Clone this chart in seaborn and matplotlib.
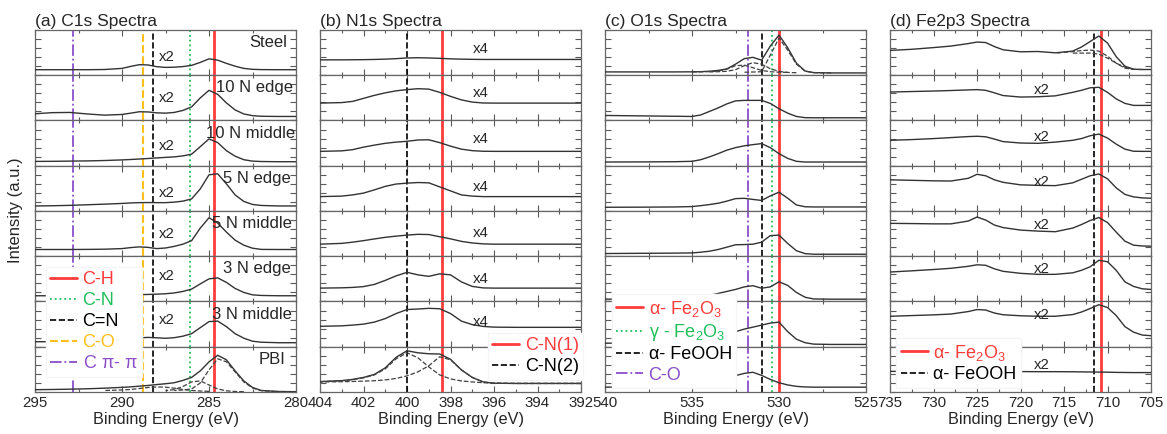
import numpy as np
import matplotlib
matplotlib.use('Agg')
from matplotlib import pyplot as plt
from matplotlib.lines import Line2D
from matplotlib.ticker import MultipleLocator
import seaborn as sns

nan = np.nan

# (a) C1s spectra, intensities in a.u. (one row per sample)
c1s_energy = [295, 294, 293, 292, 291, 290, 289.5, 289, 288.5, 288, 287.5, 287,
              286.5, 286, 285.5, 285, 284.5, 284, 283.5, 283, 282.5, 282, 281, 280]
c1s_steel = [5.5, 5.5, 5.5, 5.5, 5.7, 6.8, 8.8, 10.5, 10.2, 8.5, 7.8, 8.0,
             8.6, 9.8, 12.8, 16.3, 15.0, 11.8, 9.0, 6.8, 5.9, 5.6, 5.5, 5.5]
c1s_10n_edge = [6.7, 7.8, 8.0, 6.5, 5.3, 6.0, 7.3, 8.7, 8.5, 7.6, 7.3, 8.0,
                10.0, 13.5, 22.5, 30.0, 26.0, 17.5, 10.5, 6.5, 4.8, 4.2, 4.0, 4.0]
c1s_10n_middle = [4.3, 4.4, 4.6, 4.8, 5.2, 5.8, 6.2, 6.7, 7.2, 7.8, 8.3, 8.8,
                  9.8, 11.5, 19.0, 26.7, 23.0, 15.0, 9.5, 6.0, 4.6, 4.2, 4.0, 4.0]
c1s_5n_edge = [5.0, 5.2, 5.6, 6.2, 6.8, 7.5, 8.0, 8.3, 8.4, 8.3, 8.3, 8.8,
               9.8, 12.0, 22.0, 36.0, 37.0, 27.0, 16.0, 9.5, 6.5, 5.5, 5.0, 5.0]
c1s_5n_middle = [6.7, 6.7, 6.7, 6.8, 7.0, 7.6, 8.6, 9.3, 8.8, 7.6, 8.2, 9.8,
                 12.0, 15.5, 28.0, 38.3, 33.0, 24.0, 16.0, 11.0, 8.0, 6.8, 6.7, 6.7]
c1s_3n_edge = [5.7, 5.7, 5.8, 5.9, 6.1, 6.4, 6.6, 6.8, 7.0, 7.3, 7.7, 8.5,
               10.0, 12.3, 17.5, 22.5, 23.5, 19.0, 13.0, 9.0, 6.6, 6.0, 5.7, 5.7]
c1s_3n_middle = [5.0, 5.0, 5.2, 5.5, 6.0, 6.8, 7.8, 8.8, 9.3, 8.9, 8.4, 9.0,
                 10.5, 13.0, 19.0, 25.0, 25.5, 20.0, 13.0, 8.5, 5.5, 4.5, 4.0, 4.0]
c1s_pbi = [2.3, 2.5, 2.8, 3.2, 3.8, 4.6, 5.1, 5.8, 6.5, 7.4, 8.2, 9.2,
           11.5, 14.5, 21.0, 30.0, 36.5, 32.0, 21.0, 11.0, 4.5, 1.5, 0.5, 0.3]
c1s_pbi_fit1 = [nan, nan, nan, nan, nan, nan, nan, nan, nan, nan, nan, 1.5,
                2.0, 3.0, 9.0, 22.0, 33.0, 30.0, 20.0, 10.0, 4.0, 1.3, 0.3, 0.2]
c1s_pbi_fit2 = [nan, nan, nan, nan, nan, nan, nan, nan, nan, nan, 1.5, 2.3,
                5.5, 10.0, 11.0, 7.0, 3.0, 1.2, 0.5, 0.3, nan, nan, nan, nan]
c1s_pbi_fit3 = [nan, nan, nan, nan, 1.5, 2.0, 2.5, 3.5, 4.5, 5.0, 4.8, 3.8,
                2.5, 1.5, 1.0, 0.6, nan, nan, nan, nan, nan, nan, nan, nan]
c1s_samples = ['Steel', '10 N edge', '10 N middle', '5 N edge',
               '5 N middle', '3 N edge', '3 N middle', 'PBI']
c1s_refs = [284.7, 286.1, 288.2, 288.8, 292.8]
c1s_ref_names = ['C-H', 'C-N', 'C=N', 'C-O', 'C $\\pi$- $\\pi$']

# (b) N1s spectra
n1s_energy = [404, 403, 402.5, 402, 401.5, 401, 400.5, 400, 399.5, 399,
              398.5, 398, 397.5, 397, 396.5, 396, 395, 394, 393, 392]
n1s_steel = [15.3, 15.3, 15.4, 15.5, 15.7, 16.0, 16.5, 17.2, 17.4, 17.2,
             16.8, 16.3, 16.0, 15.8, 15.7, 15.7, 15.7, 15.7, 15.7, 15.7]
n1s_10n_edge = [17.3, 17.8, 19.0, 22.0, 25.0, 27.5, 29.5, 30.7, 31.6, 31.2,
                28.0, 24.0, 20.5, 18.3, 17.4, 17.3, 17.3, 17.3, 17.3, 17.3]
n1s_10n_middle = [14.3, 14.8, 16.0, 18.5, 20.5, 22.3, 23.5, 24.3, 25.6, 25.8,
                  23.0, 19.5, 16.5, 15.0, 14.4, 14.3, 14.3, 14.3, 14.3, 14.3]
n1s_5n_edge = [14.3, 14.8, 16.0, 17.8, 21.0, 24.5, 26.8, 27.7, 28.3, 28.0,
               24.0, 20.0, 16.0, 14.8, 14.3, 14.3, 14.3, 14.3, 14.3, 14.3]
n1s_5n_middle = [12.0, 12.8, 14.0, 15.5, 17.2, 18.8, 20.0, 21.0, 21.8, 21.6,
                 19.4, 17.3, 14.8, 13.2, 12.3, 12.0, 12.0, 12.0, 12.0, 12.0]
n1s_3n_edge = [13.3, 13.6, 14.0, 14.8, 17.0, 21.0, 25.5, 29.0, 26.5, 25.0,
               27.5, 26.5, 19.5, 15.0, 13.5, 13.3, 13.3, 13.3, 13.3, 13.3]
n1s_3n_middle = [20.3, 20.8, 21.5, 22.5, 24.5, 28.0, 33.0, 37.0, 37.5, 38.2,
                 37.8, 33.0, 25.5, 22.0, 20.2, 19.5, 19.3, 19.3, 19.3, 19.3]
n1s_pbi = [10.3, 11.3, 12.5, 14.5, 17.5, 24.0, 34.5, 41.0, 39.0, 38.0,
           37.8, 32.5, 22.0, 14.5, 10.0, 8.7, 8.5, 8.5, 8.5, 8.5]
n1s_pbi_fit1 = [10.3, 11.2, 12.3, 14.0, 17.0, 23.0, 33.0, 39.0, 34.0, 25.0,
                17.0, 13.0, 11.0, 10.0, 9.2, 8.8, 8.5, 8.5, 8.5, 8.5]
n1s_pbi_fit2 = [10.0, 10.2, 10.5, 10.8, 11.2, 12.0, 13.5, 16.0, 20.0, 26.0,
                35.0, 32.0, 22.0, 14.5, 10.0, 8.7, 8.5, 8.5, 8.5, 8.5]
n1s_refs = [398.4, 400.0]
n1s_ref_names = ['C-N(1)', 'C-N(2)']

# (c) O1s spectra
o1s_energy = [540, 538, 536, 535, 534.5, 534, 533.5, 533, 532.5, 532,
              531.5, 531, 530.5, 530, 529.5, 529, 528.5, 528, 527, 525]
o1s_steel = [3.3, 3.3, 3.3, 3.4, 3.5, 4.0, 4.8, 6.3, 11.0, 16.5,
             17.8, 15.0, 29.0, 40.0, 27.3, 12.0, 4.2, 2.6, 2.3, 2.3]
o1s_10n_edge = [5.0, 4.6, 4.2, 4.0, 5.5, 9.0, 12.5, 16.5, 19.5, 20.0,
                20.0, 20.0, 17.0, 11.7, 7.3, 4.0, 2.8, 2.7, 2.7, 2.7]
o1s_10n_middle = [3.7, 3.8, 4.0, 4.4, 6.0, 8.8, 12.0, 15.5, 18.0, 19.8,
                  21.0, 22.0, 18.0, 12.0, 7.3, 4.4, 3.7, 3.7, 3.7, 3.7]
o1s_5n_edge = [3.7, 3.8, 4.0, 4.4, 5.3, 6.4, 7.7, 9.8, 12.3, 12.6,
               11.5, 10.5, 15.0, 18.7, 12.7, 6.0, 4.2, 4.0, 4.0, 4.0]
o1s_5n_middle = [2.7, 2.9, 3.1, 3.3, 4.0, 5.0, 6.7, 9.0, 11.4, 11.6,
                 12.0, 14.0, 20.5, 21.0, 12.7, 5.5, 2.6, 2.0, 2.0, 2.0]
o1s_3n_edge = [2.3, 2.5, 3.0, 3.5, 4.5, 6.0, 8.0, 10.0, 12.0, 14.5,
               15.7, 13.2, 14.5, 19.6, 16.0, 9.0, 4.2, 2.5, 2.3, 2.3]
o1s_3n_middle = [3.5, 3.8, 4.5, 5.5, 6.5, 8.0, 10.0, 12.5, 15.0, 17.5,
                 19.5, 21.5, 23.5, 24.5, 15.0, 7.5, 4.0, 2.6, 2.3, 2.3]
o1s_pbi = [4.8, 5.0, 5.8, 7.3, 8.3, 10.0, 12.0, 14.0, 16.3, 18.5,
           19.6, 16.5, 12.5, 9.2, 7.0, 5.6, 5.0, 4.8, 4.8, 4.8]
o1s_steel_fit1 = [nan, nan, nan, 3.3, 3.4, 3.6, 4.2, 6.0, 9.5, 10.0,
                  7.5, 4.8, 3.5, 3.0, 2.8, nan, nan, nan, nan, nan]
o1s_steel_fit2 = [nan, nan, nan, nan, nan, 3.3, 3.5, 3.9, 5.5, 9.5,
                  12.5, 11.0, 6.5, 3.8, 2.8, 2.5, nan, nan, nan, nan]
o1s_steel_fit3 = [nan, nan, nan, nan, nan, nan, nan, nan, nan, 3.0,
                  3.2, 3.5, 20.0, 37.0, 25.0, 11.0, 4.0, 2.6, 2.3, nan]
o1s_refs = [530.0, 530.4, 531.0, 531.8]
o1s_ref_names = ['α- Fe$_2$O$_3$', 'γ - Fe$_2$O$_3$', 'α- FeOOH', 'C-O']

# (d) Fe2p3 spectra
fe_energy = [735, 732.5, 730, 728, 726, 725, 724, 723, 722, 720, 718,
             716, 714, 713, 712, 711, 710, 709, 708, 707, 706, 705]
fe_steel = [24.7, 25.8, 27.5, 29.0, 31.5, 33.0, 32.5, 28.5, 25.3, 23.3, 23.6,
            22.3, 24.0, 28.0, 33.5, 39.0, 32.0, 18.5, 9.0, 6.0, 5.7, 5.7]
fe_10n_edge = [28.3, 28.8, 29.3, 29.8, 30.4, 30.7, 30.0, 27.5, 24.8, 23.3, 23.6,
               24.5, 28.0, 30.0, 32.5, 33.0, 28.0, 21.5, 17.0, 15.0, 15.0, 15.0]
fe_10n_middle = [25.3, 26.0, 27.0, 28.0, 29.0, 29.3, 28.8, 26.5, 24.0, 22.6, 22.3,
                 23.5, 25.3, 27.0, 29.8, 31.5, 27.5, 21.5, 16.5, 14.4, 14.3, 14.3]
fe_5n_edge = [31.0, 30.5, 30.0, 29.8, 32.5, 36.5, 35.0, 31.0, 28.5, 26.0, 25.5,
              25.2, 28.0, 31.5, 35.0, 36.8, 32.0, 23.0, 16.5, 14.0, 13.0, 12.7]
fe_5n_middle = [32.7, 32.5, 32.2, 32.2, 35.0, 39.0, 36.0, 31.0, 28.5, 26.0, 25.0,
                24.4, 28.0, 31.5, 35.5, 38.5, 33.5, 24.0, 15.0, 11.0, 10.2, 10.0]
fe_3n_edge = [29.3, 30.5, 31.8, 33.0, 35.0, 36.5, 36.0, 32.5, 30.0, 28.0, 27.0,
              27.0, 28.5, 31.0, 34.5, 41.0, 39.5, 31.0, 19.5, 15.0, 12.6, 12.0]
fe_3n_middle = [30.3, 31.0, 31.7, 32.5, 35.0, 37.0, 36.5, 33.5, 31.8, 30.8, 30.3,
                30.3, 32.0, 34.5, 38.0, 41.8, 39.0, 31.0, 20.0, 14.5, 11.6, 11.0]
fe_pbi = [20.5, 20.5, 20.5, 20.4, 20.4, 20.4, 20.3, 20.3, 20.3, 20.3, 20.2,
          20.2, 20.1, 20.0, 19.9, 19.8, 19.7, 19.5, 19.4, 19.3, 19.3, 19.3]
fe_steel_fit1 = [nan, nan, nan, nan, nan, nan, nan, nan, nan, nan, nan,
                 22.0, 23.5, 24.5, 25.0, 24.0, 19.0, 12.0, 7.0, 5.8, 5.7, nan]
fe_steel_fit2 = [nan, nan, nan, nan, nan, nan, nan, nan, nan, nan, nan,
                 nan, 22.0, 22.0, 22.0, 21.0, 17.0, 12.0, 8.0, 6.0, nan, nan]
fe_refs = [710.8, 711.5]
fe_ref_names = ['α- Fe$_2$O$_3$', 'α- FeOOH']

RED = '#FF3B3B'
GREEN = '#1FBF5A'
GOLD = '#FFBE1A'
PURPLE = '#8A4FC8'
LINE = '#333333'

sns.set_theme(style='ticks')
plt.rcParams['font.family'] = ['Liberation Sans', 'DejaVu Sans']
plt.rcParams['mathtext.fontset'] = 'custom'
plt.rcParams['mathtext.rm'] = 'Liberation Sans'
plt.rcParams['mathtext.it'] = 'Liberation Sans'
plt.rcParams['mathtext.default'] = 'regular'

fig, axes = plt.subplots(8, 4, figsize=(11.67, 4.34), dpi=100, sharex='col',
                         gridspec_kw={'hspace': 0, 'wspace': 0.092})
fig.subplots_adjust(left=0.030, right=0.9863, top=0.9309, bottom=0.0968)


def style_axis(ax, xlim, major, minor):
    ax.set_xlim(*xlim)
    ax.set_ylim(0, 45)
    ax.xaxis.set_major_locator(MultipleLocator(major))
    ax.xaxis.set_minor_locator(MultipleLocator(minor))
    ax.yaxis.set_major_locator(MultipleLocator(9))
    ax.tick_params(which='both', direction='in', top=True, right=True, left=True,
                   labelleft=False, color='0.35', width=0.8, labelsize=10.8, pad=3)
    ax.tick_params(which='major', length=4)
    ax.tick_params(which='minor', length=2.5)
    for sp in ax.spines.values():
        sp.set_color('0.4')
        sp.set_linewidth(0.9)
    ax.set_ylabel('')
    ax.set_xlabel('')


def draw_panel(col, energy, rows, refs, ref_styles, xlim, major, minor, title):
    for i, ax in enumerate(axes[:, col]):
        sns.lineplot(x=energy, y=rows[i], ax=ax, color=LINE, lw=1.0, zorder=3)
        for pos, (c, ls, lw) in zip(refs, ref_styles):
            ax.axvline(pos, color=c, ls=ls, lw=lw, zorder=2)
        style_axis(ax, xlim, major, minor)
    axes[0, col].set_title(title, loc='left', fontsize=12.5, pad=3)
    axes[-1, col].set_xlabel('Binding Energy (eV)', fontsize=11.7, labelpad=1)


def add_fits(ax, energy, fits):
    for f in fits:
        sns.lineplot(x=energy, y=f, ax=ax, color='0.25', lw=0.9, ls='--', zorder=3)


def add_legend(names, styles, anchor, spacing=0.1):
    handles = [Line2D([], [], color=c, ls=ls, lw=lw) for c, ls, lw in styles]
    leg = fig.legend(handles, names, loc='upper left', bbox_to_anchor=anchor,
                     bbox_transform=fig.transFigure, fontsize=13, labelcolor='linecolor',
                     frameon=True, facecolor='white', edgecolor='0.96', framealpha=1,
                     fancybox=False, handlelength=1.5, handletextpad=0.3,
                     labelspacing=spacing, borderpad=0.25, borderaxespad=0)
    leg.set_zorder(10)


# (a) C1s
c1s_rows = [c1s_steel, c1s_10n_edge, c1s_10n_middle, c1s_5n_edge,
            c1s_5n_middle, c1s_3n_edge, c1s_3n_middle, c1s_pbi]
c1s_styles = [(RED, '-', 2.0), (GREEN, ':', 1.3), ('black', '--', 1.2),
              (GOLD, '--', 1.5), (PURPLE, '-.', 1.3)]
draw_panel(0, c1s_energy, c1s_rows, c1s_refs, c1s_styles, (295, 280), 5, 2.5, '(a) C1s Spectra')
add_fits(axes[7, 0], c1s_energy, [c1s_pbi_fit1, c1s_pbi_fit2, c1s_pbi_fit3])
c1s_label_x = [282.7, 284.6, 285.2, 284.2, 284.8, 284.2, 284.8, 282.15]
c1s_x2_y = [18.2, 22.5, 19.8, 18.0, 22.3, 25.5, 26.8]
for i, ax in enumerate(axes[:, 0]):
    ax.text(c1s_label_x[i], 32.5, c1s_samples[i], fontsize=12, va='center', ha='left', zorder=5)
    if i < 7:
        ax.text(287.4, c1s_x2_y[i], 'x2', fontsize=10.8, va='center', ha='center', zorder=5)
add_legend(c1s_ref_names, c1s_styles, (0.039, 0.385), spacing=0.22)

# (b) N1s
n1s_rows = [n1s_steel, n1s_10n_edge, n1s_10n_middle, n1s_5n_edge,
            n1s_5n_middle, n1s_3n_edge, n1s_3n_middle, n1s_pbi]
n1s_styles = [(RED, '-', 2.0), ('black', '--', 1.2)]
draw_panel(1, n1s_energy, n1s_rows, n1s_refs, n1s_styles, (404, 392), 2, 1, '(b) N1s Spectra')
add_fits(axes[7, 1], n1s_energy, [n1s_pbi_fit1, n1s_pbi_fit2])
n1s_x4_y = [26.0, 27.2, 26.5, 24.3, 23.6, 22.2, 25.0]
for i in range(7):
    axes[i, 1].text(396.6, n1s_x4_y[i], 'x4', fontsize=10.8, va='center', ha='center', zorder=5)
add_legend(n1s_ref_names, n1s_styles, (0.418, 0.233), spacing=0.2)

# (c) O1s
o1s_rows = [o1s_steel, o1s_10n_edge, o1s_10n_middle, o1s_5n_edge,
            o1s_5n_middle, o1s_3n_edge, o1s_3n_middle, o1s_pbi]
o1s_styles = [(RED, '-', 2.0), (GREEN, ':', 1.3), ('black', '--', 1.2), (PURPLE, '-.', 1.3)]
draw_panel(2, o1s_energy, o1s_rows, o1s_refs, o1s_styles, (540, 525), 5, 2.5, '(c) O1s Spectra')
add_fits(axes[0, 2], o1s_energy, [o1s_steel_fit1, o1s_steel_fit2, o1s_steel_fit3])
add_legend(o1s_ref_names, o1s_styles, (0.524, 0.322), spacing=0.18)

# (d) Fe2p3
fe_rows = [fe_steel, fe_10n_edge, fe_10n_middle, fe_5n_edge,
           fe_5n_middle, fe_3n_edge, fe_3n_middle, fe_pbi]
fe_styles = [(RED, '-', 2.0), ('black', '--', 1.2)]
draw_panel(3, fe_energy, fe_rows, fe_refs, fe_styles, (735, 705), 5, 2.5, '(d) Fe2p3 Spectra')
add_fits(axes[0, 3], fe_energy, [fe_steel_fit1, fe_steel_fit2])
fe_x2_y = [30.5, 29.0, 29.3, 31.3, 32.2, 31.8, 27.0]
for i in range(1, 8):
    axes[i, 3].text(717.6, fe_x2_y[i - 1], 'x2', fontsize=10.8, va='center', ha='center', zorder=5)
add_legend(fe_ref_names, fe_styles, (0.768, 0.221), spacing=0.2)

fig.text(0.013, 0.516, 'Intensity (a.u.)', rotation=90, va='center', ha='center', fontsize=12)

fig.savefig('out.png', dpi=100)
